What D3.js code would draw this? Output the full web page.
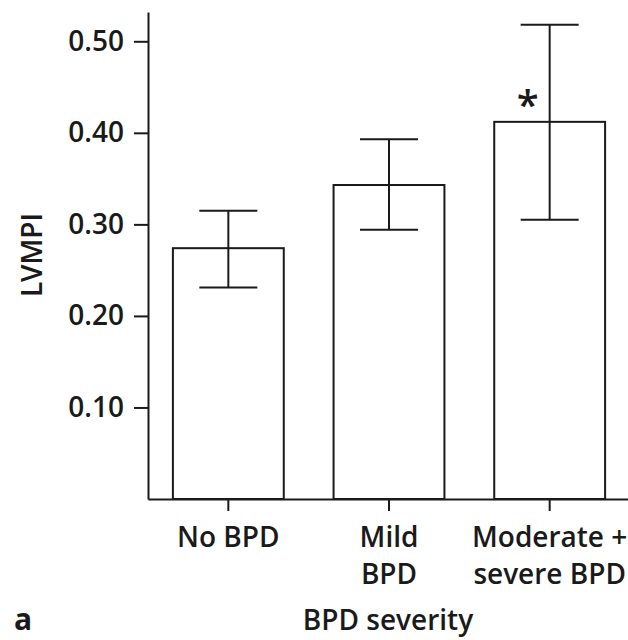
<!DOCTYPE html>
<html>
<head>
<meta charset="utf-8">
<script src="https://cdn.jsdelivr.net/npm/d3@7"></script>
<style>
  body { margin: 0; background: #fff; }
  svg { display: block; }
  text { font-family: "Open Sans", sans-serif; font-weight: 600; fill: #1a1a1a; }
</style>
</head>
<body>
<svg id="chart"></svg>
<script>
// values
var groups = ["No BPD", "Mild BPD", "Moderate + severe BPD"]
var groupLines = [["No BPD"], ["Mild", "BPD"], ["Moderate +", "severe BPD"]]
var means = [0.274, 0.343, 0.412]
var errLow = [0.231, 0.294, 0.305]
var errHigh = [0.315, 0.393, 0.518]
var yTicks = [0.10, 0.20, 0.30, 0.40, 0.50]
var starred = [false, false, true]

var screen = {width: 628, height: 640}
var svg = d3.select("#chart")
  .attr("width", screen.width)
  .attr("height", screen.height)

var x = d3.scaleBand()
  .domain(groups)
  .range([148, 630])
  .paddingInner(0.31)
  .paddingOuter(0.155)

var y = d3.scaleLinear()
  .domain([0, 0.532])
  .range([499, 12])

var ink = "#1a1a1a"

// bars
svg.append("g")
  .selectAll("rect")
  .data(groups)
  .enter()
  .append("rect")
  .attr("x", function(d){ return x(d) })
  .attr("y", function(d, i){ return y(means[i]) })
  .attr("width", x.bandwidth())
  .attr("height", function(d, i){ return y(0) - y(means[i]) })
  .attr("fill", "none")
  .attr("stroke", ink)
  .attr("stroke-width", 2)

// error bars
var capW = 58
var err = svg.append("g")
  .selectAll("g")
  .data(groups)
  .enter()
  .append("g")

err.append("line")
  .attr("x1", function(d){ return x(d) + x.bandwidth()/2 })
  .attr("x2", function(d){ return x(d) + x.bandwidth()/2 })
  .attr("y1", function(d, i){ return y(errLow[i]) })
  .attr("y2", function(d, i){ return y(errHigh[i]) })
  .attr("stroke", ink).attr("stroke-width", 2)

err.append("line")
  .attr("x1", function(d){ return x(d) + x.bandwidth()/2 - capW/2 })
  .attr("x2", function(d){ return x(d) + x.bandwidth()/2 + capW/2 })
  .attr("y1", function(d, i){ return y(errHigh[i]) })
  .attr("y2", function(d, i){ return y(errHigh[i]) })
  .attr("stroke", ink).attr("stroke-width", 2)

err.append("line")
  .attr("x1", function(d){ return x(d) + x.bandwidth()/2 - capW/2 })
  .attr("x2", function(d){ return x(d) + x.bandwidth()/2 + capW/2 })
  .attr("y1", function(d, i){ return y(errLow[i]) })
  .attr("y2", function(d, i){ return y(errLow[i]) })
  .attr("stroke", ink).attr("stroke-width", 2)

// significance star
svg.append("g")
  .selectAll("text")
  .data(groups.filter(function(d, i){ return starred[i] }))
  .enter()
  .append("text")
  .attr("x", function(d){ return x(d) + x.bandwidth()/2 - 22 })
  .attr("y", function(d){ return y(means[groups.indexOf(d)]) - 3 })
  .attr("text-anchor", "middle")
  .style("font-size", "40px")
  .text("*")

// y axis
var yAxis = svg.append("g")
  .attr("transform", "translate(148,0)")
  .call(d3.axisLeft(y).tickValues(yTicks).tickFormat(d3.format(".2f")).tickSize(14).tickPadding(10).tickSizeOuter(0))
yAxis.select(".domain").attr("stroke", ink).attr("stroke-width", 2)
yAxis.selectAll(".tick line").attr("stroke", ink).attr("stroke-width", 2)
yAxis.selectAll(".tick text")
  .style("font-size", "28px")
  .attr("fill", ink)

// x axis
var xAxis = svg.append("g")
  .attr("transform", "translate(0,499)")
  .call(d3.axisBottom(x).tickSize(12).tickSizeOuter(0).tickFormat(""))
xAxis.select(".domain").attr("stroke", ink).attr("stroke-width", 2)
xAxis.selectAll(".tick line").attr("stroke", ink).attr("stroke-width", 2)

var xLabels = svg.append("g")
  .selectAll("text")
  .data(groups)
  .enter()
  .append("text")
  .attr("text-anchor", "middle")
  .style("font-size", "28px")
  .attr("y", 547)

xLabels.selectAll("tspan")
  .data(function(d, i){ return groupLines[i] })
  .enter()
  .append("tspan")
  .attr("x", function(){ var g = d3.select(this.parentNode).datum(); return x(g) + x.bandwidth()/2 })
  .attr("dy", function(d, j){ return j == 0 ? 0 : 37 })
  .text(function(d){ return d })

// axis titles
svg.append("text")
  .attr("transform", "translate(42,255) rotate(-90)")
  .attr("text-anchor", "middle")
  .style("font-size", "28px")
  .text("LVMPI")

svg.append("text")
  .attr("x", 388)
  .attr("y", 630)
  .attr("text-anchor", "middle")
  .style("font-size", "28px")
  .text("BPD severity")

svg.append("text")
  .attr("x", 14)
  .attr("y", 630)
  .style("font-size", "30px")
  .style("font-weight", "700")
  .text("a")
</script>
</body>
</html>
